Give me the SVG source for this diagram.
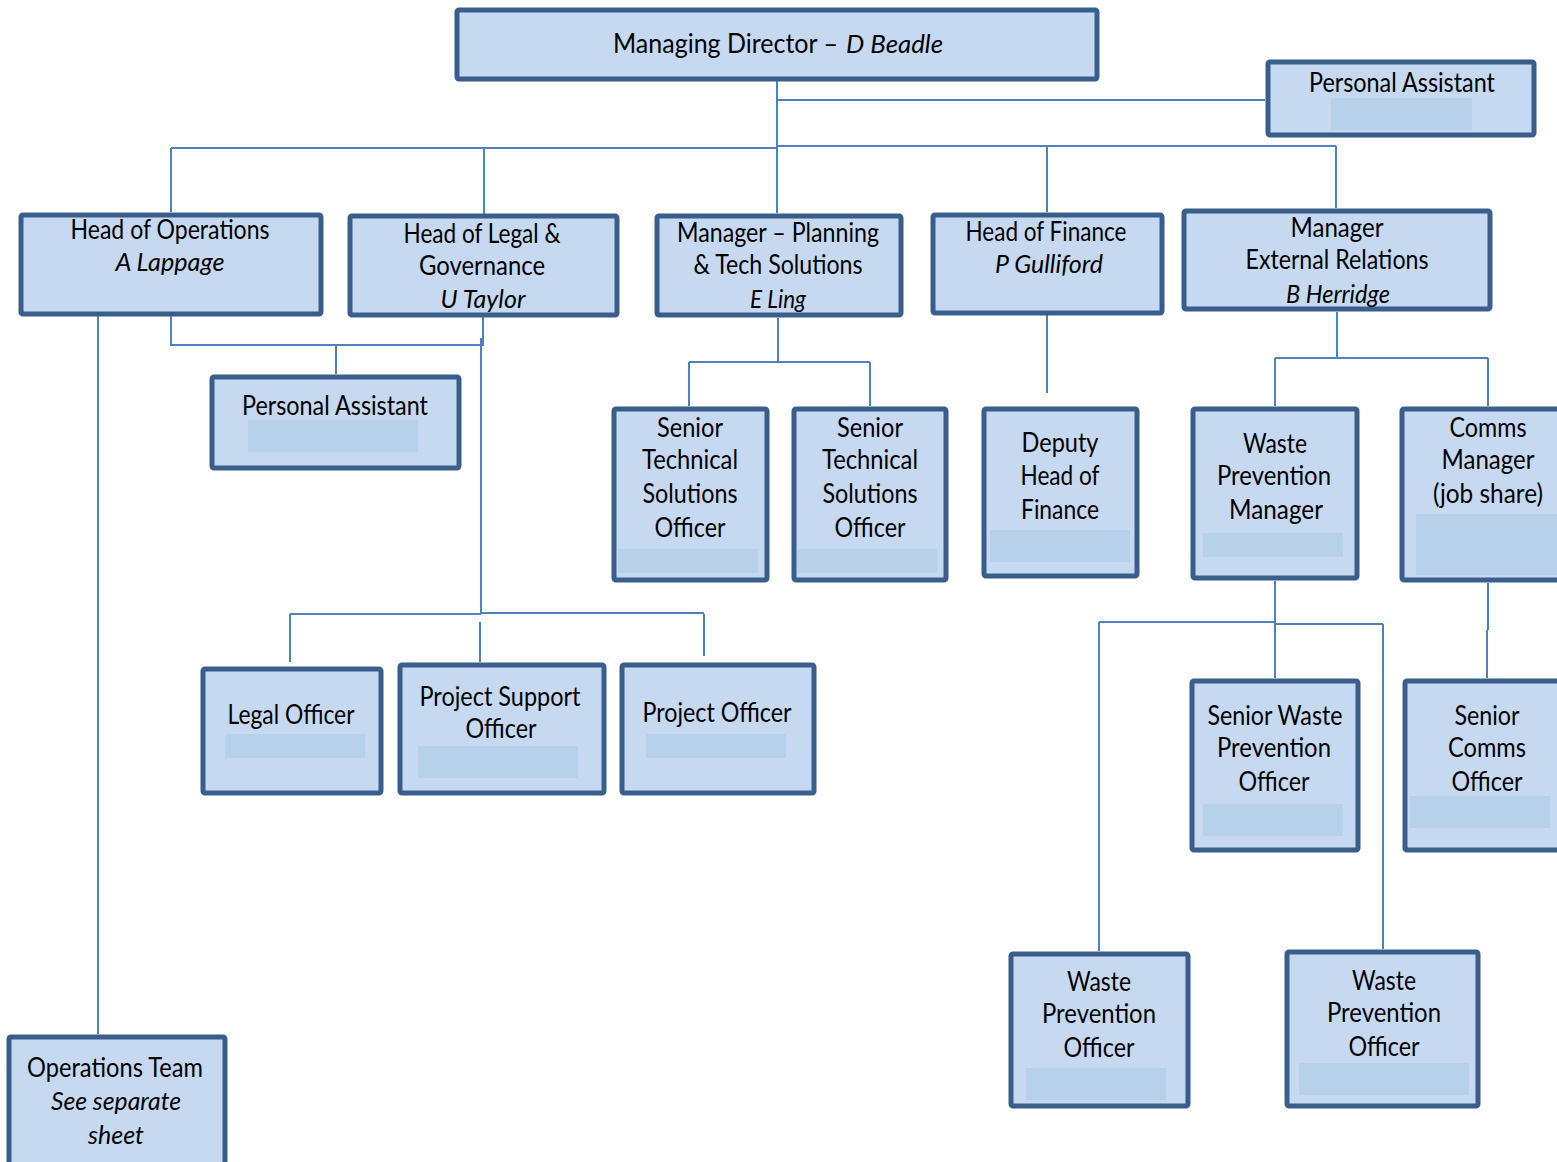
<svg xmlns="http://www.w3.org/2000/svg" width="1557" height="1162" viewBox="0 0 1557 1162">
<style>
.box{fill:#C6D9F1;stroke:#3A5E8B;stroke-width:5;}
.red{fill:#B8D1EB;stroke:none;}
.ln{stroke:#4F81BD;stroke-width:2;fill:none;}
text{font-family:Lato,"Liberation Sans",sans-serif;font-size:26px;fill:#000;text-anchor:middle;}
.it{font-style:italic;}
.st{text-anchor:start;}
</style>
<rect width="1557" height="1162" fill="#fff"/>
<g id="connectors">
<path class="ln" d="M777 81V148M777 100H1265M171 148H777M777 146H1336M171 148V212M484 148V214M777 148V213M1047 146V212M1336 146V208"/>
<path class="ln" d="M171 316V345H483V316M336 345V374M98 310V1034"/>
<path class="ln" d="M481 338V614M290 614H481M481 613H704M290 614V662M480 622V662M704 614V656"/>
<path class="ln" d="M778 318V362M689 362H870M689 362V406M870 362V406"/>
<path class="ln" d="M1047 310V393"/>
<path class="ln" d="M1337 312V358M1275 358H1488M1275 358V406M1488 358V406"/>
<path class="ln" d="M1275 581V678M1099 622H1275M1275 624H1383M1099 622V951M1383 624V949"/>
<path class="ln" d="M1488 583V630M1487 630V678"/>
</g>
<g id="md"><rect class="box" x="457" y="10" width="640" height="69" rx="2"/>
<text class="st" x="613" y="53" textLength="225" lengthAdjust="spacingAndGlyphs">Managing Director –</text>
<text class="st it" x="846" y="53" textLength="97" lengthAdjust="spacingAndGlyphs">D Beadle</text></g>
<g id="pa-top"><rect class="box" x="1268" y="62" width="266" height="73" rx="2"/><rect class="red" x="1331" y="98" width="141" height="32"/>
<text x="1402" y="92" textLength="186" lengthAdjust="spacingAndGlyphs">Personal Assistant</text></g>
<g id="head-ops"><rect class="box" x="21" y="215" width="300" height="99" rx="2"/>
<text x="170" y="239" textLength="199" lengthAdjust="spacingAndGlyphs">Head of Operations</text>
<text class="it" x="170" y="271" textLength="109" lengthAdjust="spacingAndGlyphs">A Lappage</text></g>
<g id="head-legal"><rect class="box" x="350" y="216" width="267" height="99" rx="2"/>
<text x="482" y="243" textLength="157" lengthAdjust="spacingAndGlyphs">Head of Legal &amp;</text>
<text x="482" y="275" textLength="126" lengthAdjust="spacingAndGlyphs">Governance</text>
<text class="it" x="483" y="308" textLength="85" lengthAdjust="spacingAndGlyphs">U Taylor</text></g>
<g id="mgr-planning"><rect class="box" x="657" y="216" width="244" height="99" rx="2"/>
<text x="778" y="242" textLength="202" lengthAdjust="spacingAndGlyphs">Manager – Planning</text>
<text x="778" y="274" textLength="169" lengthAdjust="spacingAndGlyphs">&amp; Tech Solutions</text>
<text class="it" x="778" y="308" textLength="56" lengthAdjust="spacingAndGlyphs">E Ling</text></g>
<g id="head-finance"><rect class="box" x="933" y="215" width="229" height="98" rx="2"/>
<text x="1046" y="241" textLength="161" lengthAdjust="spacingAndGlyphs">Head of Finance</text>
<text class="it" x="1049" y="273" textLength="108" lengthAdjust="spacingAndGlyphs">P Gulliford</text></g>
<g id="mgr-external"><rect class="box" x="1184" y="211" width="306" height="98" rx="2"/>
<text x="1337" y="237" textLength="93" lengthAdjust="spacingAndGlyphs">Manager</text>
<text x="1337" y="269" textLength="183" lengthAdjust="spacingAndGlyphs">External Relations</text>
<text class="it" x="1338" y="303" textLength="104" lengthAdjust="spacingAndGlyphs">B Herridge</text></g>
<g id="pa-mid"><rect class="box" x="212" y="377" width="247" height="91" rx="2"/><rect class="red" x="248" y="420" width="170" height="32"/>
<text x="335" y="415" textLength="186" lengthAdjust="spacingAndGlyphs">Personal Assistant</text></g>
<g id="stso-1"><rect class="box" x="614" y="409" width="153" height="171" rx="2"/><rect class="red" x="618" y="549" width="140" height="24"/>
<text x="690" y="437" textLength="66" lengthAdjust="spacingAndGlyphs">Senior</text>
<text x="690" y="469" textLength="96" lengthAdjust="spacingAndGlyphs">Technical</text>
<text x="690" y="503" textLength="95" lengthAdjust="spacingAndGlyphs">Solutions</text>
<text x="690" y="537" textLength="71" lengthAdjust="spacingAndGlyphs">Officer</text></g>
<g id="stso-2"><rect class="box" x="794" y="409" width="152" height="171" rx="2"/><rect class="red" x="797" y="549" width="140" height="24"/>
<text x="870" y="437" textLength="66" lengthAdjust="spacingAndGlyphs">Senior</text>
<text x="870" y="469" textLength="96" lengthAdjust="spacingAndGlyphs">Technical</text>
<text x="870" y="503" textLength="95" lengthAdjust="spacingAndGlyphs">Solutions</text>
<text x="870" y="537" textLength="71" lengthAdjust="spacingAndGlyphs">Officer</text></g>
<g id="deputy-finance"><rect class="box" x="984" y="409" width="153" height="167" rx="2"/><rect class="red" x="990" y="530" width="140" height="32"/>
<text x="1060" y="452" textLength="77" lengthAdjust="spacingAndGlyphs">Deputy</text>
<text x="1060" y="485" textLength="79" lengthAdjust="spacingAndGlyphs">Head of</text>
<text x="1060" y="519" textLength="78" lengthAdjust="spacingAndGlyphs">Finance</text></g>
<g id="wp-manager"><rect class="box" x="1193" y="409" width="164" height="169" rx="2"/><rect class="red" x="1203" y="533" width="140" height="24"/>
<text x="1275" y="453" textLength="64" lengthAdjust="spacingAndGlyphs">Waste</text>
<text x="1274" y="485" textLength="114" lengthAdjust="spacingAndGlyphs">Prevention</text>
<text x="1276" y="519" textLength="94" lengthAdjust="spacingAndGlyphs">Manager</text></g>
<g id="comms-manager"><rect class="box" x="1402" y="409" width="170" height="171" rx="2"/><rect class="red" x="1416" y="514" width="150" height="61"/>
<text x="1488" y="437" textLength="77" lengthAdjust="spacingAndGlyphs">Comms</text>
<text x="1488" y="469" textLength="93" lengthAdjust="spacingAndGlyphs">Manager</text>
<text x="1488" y="503" textLength="110" lengthAdjust="spacingAndGlyphs">(job share)</text></g>
<g id="legal-officer"><rect class="box" x="203" y="669" width="178" height="124" rx="2"/><rect class="red" x="225" y="734" width="140" height="24"/>
<text x="291" y="724" textLength="127" lengthAdjust="spacingAndGlyphs">Legal Officer</text></g>
<g id="project-support"><rect class="box" x="400" y="665" width="204" height="128" rx="2"/><rect class="red" x="418" y="746" width="160" height="32"/>
<text x="500" y="706" textLength="161" lengthAdjust="spacingAndGlyphs">Project Support</text>
<text x="501" y="738" textLength="71" lengthAdjust="spacingAndGlyphs">Officer</text></g>
<g id="project-officer"><rect class="box" x="622" y="665" width="192" height="128" rx="2"/><rect class="red" x="646" y="734" width="140" height="24"/>
<text x="717" y="722" textLength="149" lengthAdjust="spacingAndGlyphs">Project Officer</text></g>
<g id="senior-wpo"><rect class="box" x="1192" y="681" width="166" height="169" rx="2"/><rect class="red" x="1203" y="804" width="140" height="32"/>
<text x="1275" y="725" textLength="135" lengthAdjust="spacingAndGlyphs">Senior Waste</text>
<text x="1274" y="757" textLength="114" lengthAdjust="spacingAndGlyphs">Prevention</text>
<text x="1274" y="791" textLength="71" lengthAdjust="spacingAndGlyphs">Officer</text></g>
<g id="senior-comms"><rect class="box" x="1405" y="681" width="165" height="169" rx="2"/><rect class="red" x="1410" y="796" width="140" height="32"/>
<text x="1487" y="725" textLength="65" lengthAdjust="spacingAndGlyphs">Senior</text>
<text x="1487" y="757" textLength="78" lengthAdjust="spacingAndGlyphs">Comms</text>
<text x="1487" y="791" textLength="71" lengthAdjust="spacingAndGlyphs">Officer</text></g>
<g id="wpo-1"><rect class="box" x="1011" y="954" width="177" height="152" rx="2"/><rect class="red" x="1026" y="1068" width="140" height="32"/>
<text x="1099" y="991" textLength="64" lengthAdjust="spacingAndGlyphs">Waste</text>
<text x="1099" y="1023" textLength="114" lengthAdjust="spacingAndGlyphs">Prevention</text>
<text x="1099" y="1057" textLength="71" lengthAdjust="spacingAndGlyphs">Officer</text></g>
<g id="wpo-2"><rect class="box" x="1287" y="952" width="191" height="154" rx="2"/><rect class="red" x="1299" y="1063" width="170" height="32"/>
<text x="1384" y="990" textLength="64" lengthAdjust="spacingAndGlyphs">Waste</text>
<text x="1384" y="1022" textLength="114" lengthAdjust="spacingAndGlyphs">Prevention</text>
<text x="1384" y="1056" textLength="71" lengthAdjust="spacingAndGlyphs">Officer</text></g>
<g id="ops-team"><rect class="box" x="9" y="1037" width="216" height="135" rx="2"/>
<text x="115" y="1077" textLength="176" lengthAdjust="spacingAndGlyphs">Operations Team</text>
<text class="it" x="116" y="1110" textLength="130" lengthAdjust="spacingAndGlyphs">See separate</text>
<text class="it" x="116" y="1144" textLength="56" lengthAdjust="spacingAndGlyphs">sheet</text></g>
</svg>
